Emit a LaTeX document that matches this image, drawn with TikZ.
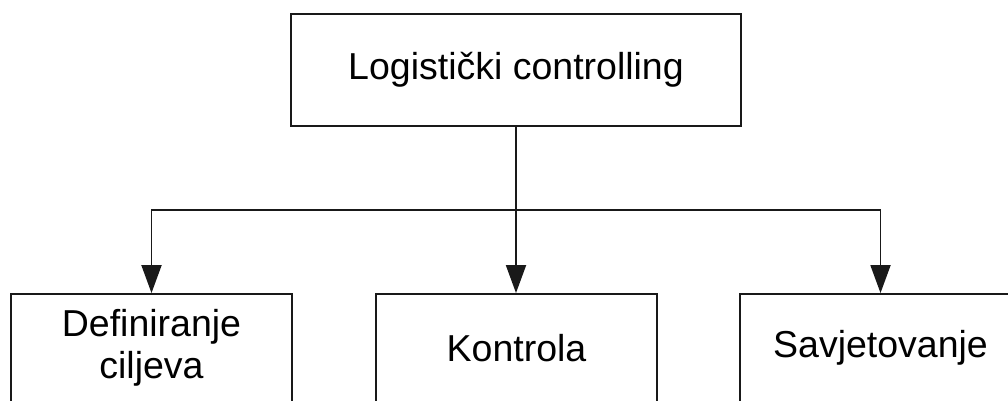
\documentclass[tikz,border=0pt]{standalone}
\usepackage{fontspec}
\setmainfont{Liberation Sans}
\usetikzlibrary{arrows.meta}
\begin{document}
\begin{tikzpicture}[x=1pt,y=-1pt,
  box/.style={draw=black!90,line width=1.9pt,fill=white,rectangle,inner sep=0pt,
    font=\fontsize{37.5}{42}\selectfont,align=center},
  arr/.style={draw=black!90,line width=1.9pt,-{Triangle[width=20pt,length=28pt]}}]
\useasboundingbox (0,0) rectangle (1008,401);
\clip (0,0) rectangle (1008,401);
\fill[white] (0,0) rectangle (1008,401);
\node[box,minimum width=450pt,minimum height=112pt] (top) at (516,70) {Logistički controlling};
\node[box,minimum width=281pt,minimum height=108pt] (left) at (151.5,348) {Definiranje\\ciljeva};
\node[box,minimum width=281pt,minimum height=108pt] (mid) at (516.5,348) {Kontrola};
\node[box,minimum width=281pt,minimum height=108pt] (right) at (880.5,348) {Savjetovanje};
\coordinate (bus) at (516,210);
\draw[arr] (top.south) -- (top.south |- mid.north);
\draw[arr] (bus) -| (left.north);
\draw[arr] (bus) -| (right.north);
\end{tikzpicture}
\end{document}
